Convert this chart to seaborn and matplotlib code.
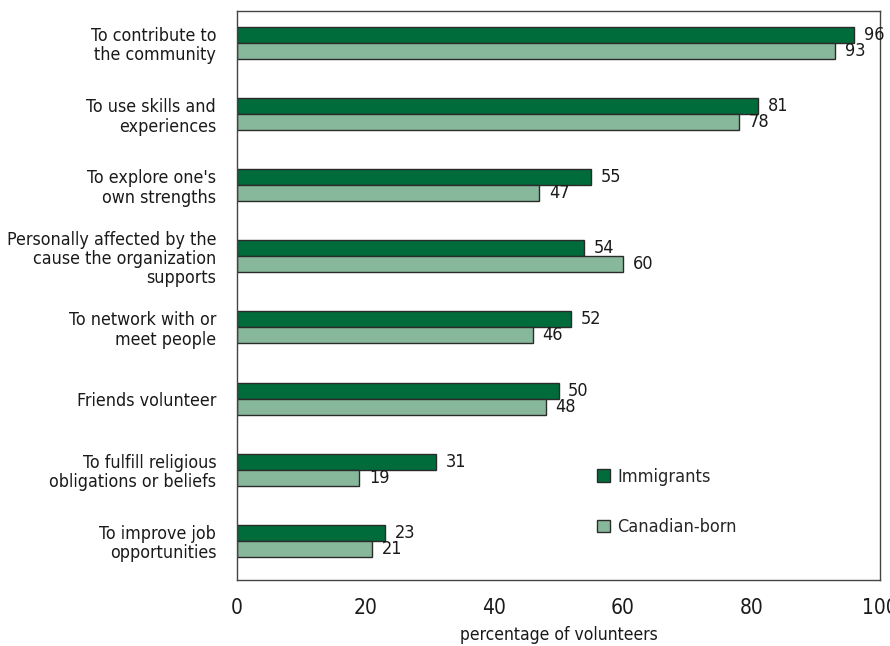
import pandas as pd
import seaborn as sns
import matplotlib.pyplot as plt
from matplotlib import font_manager as fm

reasons = [
    "To contribute to\nthe community",
    "To use skills and\nexperiences",
    "To explore one's\nown strengths",
    "Personally affected by the\ncause the organization\nsupports",
    "To network with or\nmeet people",
    "Friends volunteer",
    "To fulfill religious\nobligations or beliefs",
    "To improve job\nopportunities",
]
immigrants = [96, 81, 55, 54, 52, 50, 31, 23]
canadian_born = [93, 78, 47, 60, 46, 48, 19, 21]
groups = ["Immigrants", "Canadian-born"]

df = pd.DataFrame({
    "reason": reasons * 2,
    "pct": immigrants + canadian_born,
    "group": [groups[0]] * len(reasons) + [groups[1]] * len(reasons),
})

# look for a narrow sans face, the original uses a condensed typeface
narrow = None
for f in fm.fontManager.ttflist:
    st = str(f.stretch).lower()
    if ("condensed" in st or st in ("semi-condensed", "condensed")) or "narrow" in f.name.lower() \
            or "condensed" in f.name.lower():
        if f.weight in (400, "normal", "regular", 500, "medium"):
            narrow = f
            break

sns.set_style("white")
if narrow is not None:
    fm.fontManager.addfont(narrow.fname)
    plt.rcParams["font.family"] = [narrow.name, "DejaVu Sans"]
    plt.rcParams["font.stretch"] = narrow.stretch
    scale = 1.0
else:
    plt.rcParams["font.family"] = ["DejaVu Sans"]
    scale = 0.85

fig = plt.figure(figsize=(8.9, 6.46), dpi=100)
ax = fig.add_axes([0.2663, 0.1022, 0.7225, 0.8808])

sns.barplot(data=df, y="reason", x="pct", hue="group", orient="h",
            palette=["#006b3b", "#88b89b"], saturation=1, width=0.45,
            edgecolor="#2b2b2b", linewidth=1, ax=ax)

for cont in ax.containers:
    ax.bar_label(cont, padding=7, fontsize=13 * scale, color="#1a1a1a")

ax.set_xlim(0, 100)
ax.set_ylim(7.55, -0.45)
ax.set_xticks([0, 20, 40, 60, 80, 100])
ax.set_ylabel("")
ax.set_xlabel("percentage of volunteers", fontsize=12.5 * scale, color="#1a1a1a", labelpad=6)
ax.tick_params(axis="x", direction="in", length=5, width=1, color="#444444",
               labelsize=15 * scale, pad=13, labelcolor="#1a1a1a")
ax.tick_params(axis="y", length=0, labelsize=12.8 * scale, pad=15, labelcolor="#1a1a1a")
for lab in ax.get_yticklabels():
    lab.set_horizontalalignment("right")
    lab.set_multialignment("right")
    lab.set_linespacing(1.1)
for s in ax.spines.values():
    s.set_color("#444444")
    s.set_linewidth(1)

ax.legend(loc="center left", bbox_to_anchor=(0.535, 0.137), frameon=False,
          fontsize=13 * scale, labelspacing=1.8, handlelength=0.7, handleheight=0.7,
          handletextpad=0.4)

fig.savefig("out.png", dpi=100)
